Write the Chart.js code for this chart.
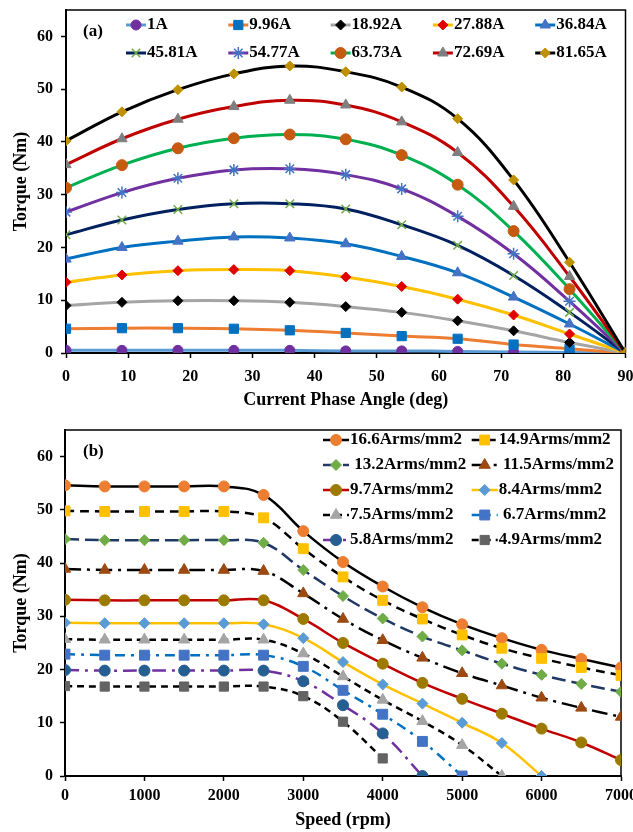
<!DOCTYPE html>
<html>
<head>
<meta charset="utf-8">
<title>Torque characteristics</title>
<script src="https://cdnjs.cloudflare.com/ajax/libs/Chart.js/4.4.1/chart.umd.min.js"></script>
<style>
  html,body{margin:0;padding:0;background:#fff;}
  #wrap{position:relative;width:633px;height:832px;overflow:hidden;}
  canvas{position:absolute;left:0;}
  #cA{top:0;}
  #cB{top:412px;}
</style>
</head>
<body>
<div id="wrap">
  <canvas id="cA" width="633" height="412"></canvas>
  <canvas id="cB" width="633" height="420"></canvas>
</div>
<script>
/* (a) torque vs current phase angle, one curve per phase current
   (b) torque vs speed, one curve per current density */

// ---- (a) data -------------------------------------------------------------
const ANGLE = [0, 9, 18, 27, 36, 45, 54, 63, 72, 81, 90];
const CURRENTS = ['1A', '9.96A', '18.92A', '27.88A', '36.84A', '45.81A', '54.77A', '63.73A', '72.69A', '81.65A'];
const T_1A    = [0.5, 0.5, 0.5, 0.5, 0.5, 0.4, 0.4, 0.3, 0.2, 0.1, 0];
const T_9_96  = [4.6, 4.7, 4.7, 4.6, 4.3, 3.8, 3.2, 2.7, 1.6, 0.8, 0];
const T_18_92 = [9.0, 9.6, 9.9, 9.9, 9.6, 8.8, 7.7, 6.1, 4.2, 2.0, 0];
const T_27_88 = [13.4, 14.8, 15.6, 15.8, 15.6, 14.4, 12.6, 10.2, 7.2, 3.6, 0];
const T_36_84 = [17.8, 20.0, 21.2, 22.0, 21.8, 20.7, 18.3, 15.2, 10.6, 5.5, 0];
const T_45_81 = [22.4, 25.2, 27.2, 28.3, 28.3, 27.3, 24.3, 20.4, 14.7, 7.7, 0];
const T_54_77 = [26.7, 30.4, 33.1, 34.7, 34.9, 33.8, 31.1, 25.9, 18.8, 9.8, 0];
const T_63_73 = [31.3, 35.6, 38.8, 40.7, 41.4, 40.5, 37.5, 31.9, 23.1, 12.1, 0];
const T_72_69 = [35.7, 40.6, 44.3, 46.7, 47.9, 47.0, 43.8, 38.0, 27.8, 14.5, 0];
const T_81_65 = [40.2, 45.7, 49.9, 52.9, 54.4, 53.3, 50.4, 44.4, 32.8, 17.2, 0];
const ANGLE_SERIES = [T_1A, T_9_96, T_18_92, T_27_88, T_36_84, T_45_81, T_54_77, T_63_73, T_72_69, T_81_65];

// ---- (b) data -------------------------------------------------------------
const SPEED = [0, 500, 1000, 1500, 2000, 2500, 3000, 3500, 4000, 4500, 5000, 5500, 6000, 6500, 7000];
const DENSITIES = ['16.6Arms/mm2', '14.9Arms/mm2', ' 13.2Arms/mm2', ' 11.5Arms/mm2', '9.7Arms/mm2',
                   '8.4Arms/mm2', '7.5Arms/mm2', ' 6.7Arms/mm2', '5.8Arms/mm2', '4.9Arms/mm2'];
const S_16_6 = [54.6, 54.4, 54.4, 54.4, 54.4, 52.8, 46.0, 40.2, 35.6, 31.7, 28.5, 25.9, 23.7, 22.0, 20.4];
const S_14_9 = [49.8, 49.7, 49.7, 49.7, 49.7, 48.5, 42.7, 37.4, 33.0, 29.5, 26.5, 24.0, 22.1, 20.4, 18.9];
const S_13_2 = [44.5, 44.3, 44.3, 44.3, 44.3, 43.8, 38.7, 33.8, 29.6, 26.2, 23.6, 21.1, 19.0, 17.3, 15.8];
const S_11_5 = [38.9, 38.7, 38.7, 38.7, 38.7, 38.5, 34.3, 29.5, 25.5, 22.2, 19.3, 17.0, 14.7, 12.8, 11.1];
const S_9_7  = [33.1, 33.0, 33.0, 33.0, 33.0, 33.0, 29.5, 25.0, 21.1, 17.5, 14.5, 11.7, 8.9, 6.3, 3.0];
const S_8_4  = [28.8, 28.7, 28.7, 28.7, 28.7, 28.5, 25.9, 21.4, 17.2, 13.6, 10.0, 6.2, 0];
const S_7_5  = [25.7, 25.6, 25.6, 25.6, 25.6, 25.6, 23.0, 18.7, 14.3, 10.3, 5.8, 0];
const S_6_7  = [22.9, 22.7, 22.7, 22.7, 22.7, 22.7, 20.6, 16.1, 11.6, 6.5, 0];
const S_5_8  = [19.9, 19.8, 19.8, 19.8, 19.8, 19.8, 17.8, 13.3, 8.0, 0];
const S_4_9  = [16.9, 16.8, 16.8, 16.8, 16.8, 16.8, 15.0, 10.2, 3.3];
const SPEED_SERIES = [S_16_6, S_14_9, S_13_2, S_11_5, S_9_7, S_8_4, S_7_5, S_6_7, S_5_8, S_4_9];

const Y_TICK_MAX = 60;

// ---- styles ---------------------------------------------------------------
// [line colour, marker colour, marker shape, marker radius]
const STYLE_A = [
  ['#5B9BD5', '#7030A0', 'circle',   5],
  ['#ED7D31', '#0070C0', 'rect',     6.5],
  ['#A5A5A5', '#000000', 'rectRot',  5],
  ['#FFC000', '#E00000', 'rectRot',  5],
  ['#0070C0', '#4472C4', 'triangle', 6],
  ['#002060', '#70AD47', 'crossRot', 6],
  ['#7030A0', '#4472C4', 'star',     6],
  ['#00B050', '#C55A11', 'circle',   5.5],
  ['#C00000', '#7F7F7F', 'triangle', 6],
  ['#000000', '#BF9000', 'rectRot',  5],
];
// [line colour, dash, marker colour, marker shape, marker radius]
const STYLE_B = [
  ['#000000', [],             '#ED7D31', 'circle',   5.5],
  ['#000000', [9, 6],         '#FFC000', 'rect',     7],
  ['#203864', [14, 6],        '#70AD47', 'rectRot',  5.5],
  ['#000000', [16, 6, 3, 6],  '#9C4A12', 'triangle', 6.5],
  ['#C00000', [],             '#9C7A00', 'circle',   5.5],
  ['#FFC000', [],             '#5B9BD5', 'rectRot',  5.5],
  ['#000000', [7, 5],         '#A5A5A5', 'triangle', 6.5],
  ['#0070C0', [10, 6, 3, 6],  '#4472C4', 'rect',     7],
  ['#7030A0', [14, 6, 3, 6],  '#255E91', 'circle',   5.5],
  ['#000000', [7, 5],         '#636363', 'rect',     6.5],
];

const SERIF = "'Liberation Serif','Times New Roman',serif";
Chart.defaults.font.family = SERIF;
Chart.defaults.font.weight = 'bold';
Chart.defaults.color = '#000';

// top + right edge of the plot box, panel tag
const frame = {
  id: 'frame',
  beforeDatasetsDraw(chart, args, o) {
    const {ctx, chartArea: a} = chart;
    ctx.save();
    ctx.strokeStyle = '#000';
    ctx.lineWidth = 1.5;
    ctx.beginPath();
    ctx.moveTo(a.left, a.top);
    ctx.lineTo(a.right, a.top);
    ctx.lineTo(a.right, a.bottom);
    ctx.stroke();
    ctx.font = `bold 17px ${SERIF}`;
    ctx.fillStyle = '#000';
    ctx.textBaseline = 'middle';
    ctx.fillText(o.tag, 83, a.top + 22);
    ctx.restore();
  }
};

// legend laid out on a fixed grid inside the plot
const gridLegend = {
  id: 'gridLegend',
  afterDraw(chart, args, o) {
    const ctx = chart.ctx;
    ctx.save();
    ctx.font = `bold ${o.size}px ${SERIF}`;
    ctx.textBaseline = 'middle';
    chart.data.datasets.forEach((ds, i) => {
      const x = o.x + (i % o.cols) * o.colW;
      const y = o.y + Math.floor(i / o.cols) * o.rowH;
      ctx.strokeStyle = ds.borderColor;
      ctx.lineWidth = ds.borderWidth;
      ctx.setLineDash(ds.borderDash || []);
      ctx.beginPath();
      ctx.moveTo(x, y);
      ctx.lineTo(x + o.len, y);
      ctx.stroke();
      ctx.setLineDash([]);
      ctx.fillStyle = ds.pointBackgroundColor;
      ctx.strokeStyle = ds.pointBorderColor;
      ctx.lineWidth = ds.pointBorderWidth;
      Chart.helpers.drawPoint(ctx, {pointStyle: ds.pointStyle, radius: ds.pointRadius,
        borderWidth: ds.pointBorderWidth, rotation: 0}, x + o.len / 2, y);
      ctx.fillStyle = '#000';
      ctx.fillText(ds.label, x + o.len + o.gap, y);
    });
    ctx.restore();
  }
};

function axes(o) {
  return {
    x: {
      type: 'linear', min: 0, max: o.xMax,
      ticks: {stepSize: o.xStep, padding: o.xPad, maxRotation: 0, autoSkip: false,
              color: '#000', font: {size: 16, weight: 'bold'}, callback: v => String(v)},
      grid: {drawOnChartArea: false, drawTicks: true, tickLength: 5, tickColor: '#000', tickWidth: 1.5},
      border: {display: true, color: '#000', width: 2},
      title: {display: true, text: o.xTitle, color: '#000', font: {size: 18, weight: 'bold'},
              padding: {top: 0, bottom: 1}},
      afterFit(s) { s.height = o.xH; s.paddingLeft = 0; s.paddingRight = 0; }
    },
    y: {
      type: 'linear', min: 0, max: 65,
      ticks: {stepSize: 10, padding: o.yPad, color: '#000', font: {size: 16, weight: 'bold'}},
      afterBuildTicks(s) { s.ticks = s.ticks.filter(t => t.value <= Y_TICK_MAX); },
      grid: {drawOnChartArea: false, drawTicks: true, tickLength: 5, tickColor: '#000', tickWidth: 1.5},
      border: {display: true, color: '#000', width: 2},
      title: {display: true, text: 'Torque (Nm)', color: '#000', font: {size: 18, weight: 'bold'},
              padding: {top: 11, bottom: 0}},
      afterFit(s) { s.width = o.yW; s.paddingTop = 0; s.paddingBottom = 0; }
    }
  };
}

function base(datasets, scales, padding, tag, legend) {
  return {
    type: 'line',
    data: {datasets},
    options: {
      responsive: false, animation: false, events: [],
      layout: {padding},
      scales,
      plugins: {legend: {display: false}, tooltip: {enabled: false},
                frame: {tag}, gridLegend: legend}
    },
    plugins: [frame, gridLegend]
  };
}

// ---- (a) ------------------------------------------------------------------
const dsA = ANGLE_SERIES.map((ys, i) => {
  const [line, mark, shape, r] = STYLE_A[i];
  return {
    label: CURRENTS[i],
    data: ys.map((y, k) => ({x: ANGLE[k], y})),
    borderColor: line, borderWidth: 3, tension: 0.4,
    pointStyle: shape, pointRadius: r,
    pointBackgroundColor: mark, pointBorderColor: mark,
    pointBorderWidth: (shape === 'crossRot' || shape === 'star') ? 1.5 : 1,
    order: ANGLE_SERIES.length - i
  };
});
new Chart(document.getElementById('cA'), base(dsA,
  axes({xMax: 90, xStep: 10, xPad: 9, xH: 59, yPad: 8, yW: 66, xTitle: 'Current Phase Angle (deg)'}),
  {top: 10, right: 7, bottom: 0, left: 0}, '(a)',
  {x: 126, y: 25, cols: 5, colW: 102.3, rowH: 28, len: 20, gap: 1, size: 17}));

// ---- (b) ------------------------------------------------------------------
const dsB = SPEED_SERIES.map((ys, i) => {
  const [line, dash, mark, shape, r] = STYLE_B[i];
  return {
    label: DENSITIES[i],
    data: ys.map((y, k) => ({x: SPEED[k], y})),
    borderColor: line, borderWidth: 2.5, borderDash: dash, tension: 0.4,
    pointStyle: shape, pointRadius: r,
    pointBackgroundColor: mark, pointBorderColor: mark, pointBorderWidth: 1,
    order: SPEED_SERIES.length - i
  };
});
new Chart(document.getElementById('cB'), base(dsB,
  axes({xMax: 7000, xStep: 1000, xPad: 5, xH: 56, yPad: 7, yW: 65, xTitle: 'Speed (rpm)'}),
  {top: 18, right: 12, bottom: 0, left: 0}, '(b)',
  {x: 323, y: 28, cols: 2, colW: 148.7, rowH: 25, len: 26, gap: 1, size: 17}));
</script>
</body>
</html>
